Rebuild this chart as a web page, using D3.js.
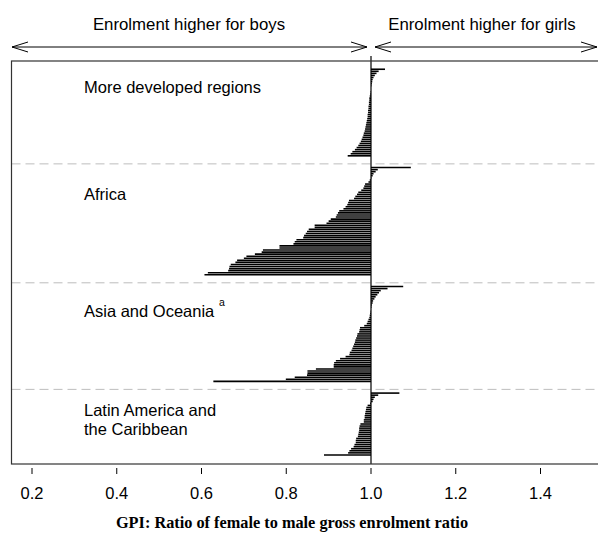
<!DOCTYPE html>
<html><head><meta charset="utf-8">
<script src="https://cdn.jsdelivr.net/npm/d3@7/dist/d3.min.js"></script>
<style>body{margin:0;background:#fff}svg{display:block}</style>
</head><body>
<script>
const regionNames = ["More developed regions", "Africa", "Asia and Oceania", "Latin America and|the Caribbean"];
const developed = [1.033,1.018,1.013,1.009,1.006,1.004,1.003,1.002,1.001,1.000,1.000,0.999,0.998,0.997,0.996,0.996,0.995,0.995,0.994,0.994,0.993,0.993,0.992,0.992,0.991,0.990,0.989,0.988,0.987,0.986,0.985,0.983,0.982,0.980,0.978,0.976,0.973,0.970,0.966,0.962,0.956,0.952,0.945];
const africa = [1.094,1.016,1.011,1.006,1.004,1.001,0.997,0.994,0.986,0.984,0.982,0.977,0.970,0.967,0.963,0.960,0.948,0.946,0.944,0.940,0.935,0.925,0.922,0.919,0.917,0.905,0.900,0.895,0.867,0.867,0.853,0.849,0.846,0.842,0.840,0.824,0.820,0.817,0.784,0.784,0.745,0.742,0.726,0.706,0.700,0.684,0.680,0.669,0.666,0.665,0.663,0.615,0.607];
const asia = [1.076,1.039,1.023,1.019,1.015,1.011,1.008,1.005,1.004,1.002,1.001,1.000,0.999,0.998,0.997,0.996,0.994,0.992,0.990,0.984,0.974,0.973,0.972,0.968,0.967,0.965,0.963,0.962,0.960,0.958,0.956,0.954,0.950,0.949,0.940,0.927,0.917,0.913,0.912,0.912,0.870,0.850,0.850,0.849,0.820,0.799,0.628];
const latam = [1.067,1.017,1.009,1.006,1.004,0.998,0.992,0.989,0.988,0.987,0.986,0.985,0.985,0.983,0.983,0.975,0.973,0.972,0.972,0.971,0.970,0.969,0.965,0.964,0.964,0.961,0.959,0.953,0.949,0.946,0.889];
const groups = [developed, africa, asia, latam];
const xTicks = [0.2, 0.4, 0.6, 0.8, 1.0, 1.2, 1.4];
const xTitle = "GPI:  Ratio of female to male gross enrolment ratio";
const boysLabel = "Enrolment higher for boys";
const girlsLabel = "Enrolment higher for girls";

const W = 598, H = 539;
const svg = d3.select("body").append("svg").attr("width", W).attr("height", H);
const font = "'Liberation Sans', Arial, sans-serif";

// layout units
const GAP = 5.7;
let offsets = [], pos = 0;
groups.forEach((g, k) => { offsets.push(pos); pos += g.length - 1 + GAP; });
const lastUnit = offsets[3] + latam.length - 1;
const seps = [0,1,2].map(k => offsets[k] + groups[k].length - 1 + 3.9);

const plotTop = 61, plotBottom = 464, plotLeft = 11.5;
const x = d3.scaleLinear().domain([0.2, 1.0]).range([32, 371]);
const y = d3.scaleLinear().domain([-4, lastUnit + 4.4]).range([plotTop, plotBottom]);

// separators
svg.append("g").selectAll("line").data(seps).join("line")
  .attr("x1", plotLeft).attr("x2", W).attr("y1", d => y(d)).attr("y2", d => y(d))
  .attr("stroke", "#bdbdbd").attr("stroke-width", 1).attr("stroke-dasharray", "9,5");

// bars
const bars = [];
groups.forEach((g, k) => g.forEach((v, i) => bars.push({v, u: offsets[k] + i})));
svg.append("g").selectAll("line").data(bars).join("line")
  .attr("x1", x(1)).attr("x2", d => x(d.v))
  .attr("y1", d => y(d.u)).attr("y2", d => y(d.u))
  .attr("stroke", "#000").attr("stroke-width", 1.6);

// vertical line at 1
svg.append("line").attr("x1", x(1)).attr("x2", x(1)).attr("y1", 56).attr("y2", plotBottom)
  .attr("stroke", "#000").attr("stroke-width", 1.2);

// box
svg.append("rect").attr("x", plotLeft).attr("y", plotTop).attr("width", W + 10).attr("height", plotBottom - plotTop)
  .attr("fill", "none").attr("stroke", "#333").attr("stroke-width", 1.2);

// region labels
const labY = [93, 200, 317, 416];
regionNames.forEach((n, k) => {
  const lines = n.split("|");
  lines.forEach((l, j) => {
    svg.append("text").attr("x", 84).attr("y", labY[k] + j * 19)
      .attr("font-family", font).attr("font-size", 16.5).attr("fill", "#000").text(l);
  });
});
// superscript
const asiaText = svg.selectAll("text").filter(function(){ return d3.select(this).text() === "Asia and Oceania"; });
const bb = asiaText.node().getBBox();
svg.append("text").attr("x", bb.x + bb.width + 4).attr("y", 306)
  .attr("font-family", font).attr("font-size", 10.5).text("a");

// x axis ticks
svg.append("g").selectAll("line").data(xTicks).join("line")
  .attr("x1", d => x(d)).attr("x2", d => x(d)).attr("y1", 468).attr("y2", 474)
  .attr("stroke", "#000").attr("stroke-width", 1);
svg.append("g").selectAll("text").data(xTicks).join("text")
  .attr("x", d => x(d)).attr("y", 499).attr("text-anchor", "middle")
  .attr("font-family", font).attr("font-size", 16.5).text(d => d.toFixed(1));

svg.append("text").attr("x", 292).attr("y", 528).attr("text-anchor", "middle")
  .attr("font-family", "'Liberation Serif', 'Times New Roman', serif").attr("font-weight", "bold")
  .attr("font-size", 16.3).text(xTitle);

// top labels and arrows
svg.append("text").attr("x", 189).attr("y", 30).attr("text-anchor", "middle")
  .attr("font-family", font).attr("font-size", 16.8).text(boysLabel);
svg.append("text").attr("x", 482).attr("y", 30).attr("text-anchor", "middle")
  .attr("font-family", font).attr("font-size", 16.8).text(girlsLabel);

function arrow(x1, x2, yy) {
  const g = svg.append("g").attr("stroke", "#000").attr("stroke-width", 1).attr("fill", "none");
  g.append("line").attr("x1", x1).attr("x2", x2).attr("y1", yy).attr("y2", yy);
  g.append("path").attr("d", `M${x1+16},${yy-5}L${x1},${yy}L${x1+16},${yy+5}`);
  g.append("path").attr("d", `M${x2-16},${yy-5}L${x2},${yy}L${x2-16},${yy+5}`);
}
arrow(12, 367, 47);
arrow(375, 597, 47);
</script>
</body></html>
